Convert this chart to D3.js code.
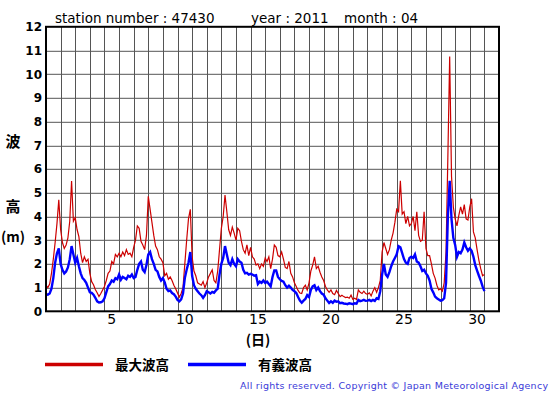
<!DOCTYPE html>
<html>
<head>
<meta charset="utf-8">
<script src="https://cdn.jsdelivr.net/npm/d3@7"></script>
<style>
  body { margin: 0; background: #fff; }
  text { font-family: "DejaVu Sans", sans-serif; }
  .jp { font-family: "Noto Sans CJK JP", sans-serif; font-weight: bold; }
</style>
</head>
<body>
<div id="chart"></div>
<script>
var svgWidth = 555;
var svgHeight = 395;

// plot box in pixels
var margin = { top: 26.8, right: 56, bottom: 83.7, left: 46 };
var width = svgWidth - margin.left - margin.right;
var height = svgHeight - margin.top - margin.bottom;

// data: 3-hourly values from Apr 1 00:00
var stepHours = 3;
var dayLabels = [5, 10, 15, 20, 25, 30];
var yTicks = [0, 1, 2, 3, 4, 5, 6, 7, 8, 9, 10, 11, 12];
var nDays = 31;

// 最大波高 (m)
var maxWave = [
  1.1, 1.0, 1.15, 1.6, 2.2, 2.9, 3.7, 4.7,
  3.45, 2.9, 2.65, 2.8, 3.1, 3.8, 5.5, 3.8,
  3.95, 3.45, 3.15, 2.45, 2.05, 2.3, 2.1, 2.2,
  1.6, 1.25, 1.12, 0.92, 0.78, 0.62, 0.75, 0.9,
  1.05, 1.3, 1.6, 1.7, 2.1, 2.0, 2.4, 2.3,
  2.45, 2.3, 2.5, 2.35, 2.6, 2.4, 2.45, 2.3,
  2.7, 3.0, 3.6, 3.5, 2.95, 2.8, 2.6, 3.2,
  4.85, 4.3, 3.75, 3.2, 2.75, 2.6, 2.3, 2.2,
  2.05, 1.5, 1.6, 1.35, 1.45, 1.3, 1.1, 0.95,
  0.77, 0.6, 0.75, 1.0, 2.0, 3.0, 3.9, 4.3,
  2.3, 1.7, 1.5, 1.2, 1.15, 1.1, 1.25, 1.0,
  1.2, 1.45, 1.6, 1.75, 1.3, 1.2, 1.7, 2.6,
  3.5, 4.0, 4.9, 4.2, 3.45, 3.2, 3.55, 3.3,
  3.0, 3.5, 3.4, 2.95, 2.6, 2.45, 2.8, 2.35,
  2.7, 2.3, 2.2, 1.95, 2.0, 1.8, 2.0, 1.9,
  2.25, 2.1, 2.3, 1.8, 2.2, 2.8, 2.7, 2.35,
  2.3, 2.5, 2.2, 1.85, 1.8, 2.1, 1.6, 1.45,
  1.2, 1.05, 0.88, 0.77, 0.75, 1.0, 1.1, 0.9,
  1.2, 1.7, 1.95, 2.3, 1.8, 1.9, 1.65, 1.45,
  1.3, 1.05, 0.9, 0.8, 0.9, 0.75, 0.7, 0.88,
  0.75, 0.62, 0.68, 0.62, 0.58, 0.6, 0.55, 0.68,
  0.5, 0.55, 0.5, 0.9, 0.8, 0.75, 0.85, 0.75,
  0.72, 0.78, 0.65, 0.85, 1.0, 0.8, 1.0, 1.3,
  2.5, 2.9, 2.65, 2.4, 2.6, 3.0, 3.3, 3.75,
  4.3, 4.2, 5.5, 4.1, 4.2, 3.7, 4.0, 3.6,
  3.7, 4.0, 3.4, 4.2, 3.2, 2.95, 3.0, 4.2,
  2.65, 2.35, 2.35, 2.0, 1.6, 1.4, 1.1, 0.9,
  0.95, 0.85, 1.2, 2.5, 6.5, 10.75, 5.7, 4.4,
  3.9, 3.6, 4.05, 4.4, 4.1, 4.5, 3.9, 3.85,
  4.4, 4.75, 3.35, 3.1, 2.6, 2.15, 1.8, 1.5,
  1.55
];

// 有義波高 (m)
var sigWave = [
  0.72, 0.7, 0.75, 0.95, 1.4, 2.05, 2.45, 2.65,
  2.0, 1.75, 1.6, 1.68, 1.85, 2.2, 2.75, 2.4,
  2.05, 2.25, 1.9, 1.6, 1.4, 1.32, 1.2, 1.0,
  0.8, 0.78, 0.7, 0.57, 0.42, 0.37, 0.38, 0.42,
  0.55, 0.8, 1.05, 1.15, 1.3, 1.25, 1.4, 1.35,
  1.55, 1.33, 1.45, 1.4, 1.35, 1.5, 1.45, 1.55,
  1.4, 1.45, 1.75, 2.0, 2.1, 1.75, 1.65, 1.95,
  2.4, 2.5, 2.2, 2.0, 1.75, 1.68, 1.45, 1.3,
  1.4, 1.22, 0.95, 0.85, 0.88, 0.77, 0.72, 0.62,
  0.48, 0.42, 0.5, 0.75, 1.4, 1.75, 2.05, 2.5,
  1.5, 1.1, 0.95, 0.85, 0.75, 0.68, 0.57, 0.68,
  0.85, 0.8, 0.75, 0.82, 0.78, 0.88, 0.95, 1.55,
  2.0, 2.25, 2.75, 2.4, 2.05, 1.95, 2.2, 2.0,
  1.9, 2.2, 2.1, 2.05, 1.75, 1.6, 1.62, 1.55,
  1.58, 1.55, 1.5, 1.52, 1.15, 1.25, 1.2, 1.3,
  1.2, 1.25, 1.15, 1.05, 1.45, 1.72, 1.72, 1.45,
  1.35, 1.28, 1.25, 1.1, 1.0, 1.08, 1.0, 0.9,
  0.85, 0.77, 0.6, 0.45, 0.36, 0.45, 0.52, 0.68,
  0.6, 0.9, 1.05, 1.1, 0.9, 1.0, 0.85, 0.75,
  0.7, 0.55, 0.45, 0.35, 0.42, 0.36, 0.45, 0.4,
  0.42, 0.34, 0.36, 0.33, 0.32, 0.3, 0.34, 0.32,
  0.3, 0.34, 0.32, 0.48, 0.43, 0.45, 0.48, 0.44,
  0.45, 0.48, 0.43, 0.48, 0.44, 0.55, 0.52, 0.85,
  1.55, 2.0, 1.55, 1.45, 1.65, 1.9, 2.1, 2.25,
  2.4, 2.75, 2.7, 2.45, 2.2, 2.05, 2.0, 2.25,
  2.3, 2.25, 2.4, 2.1, 2.05, 1.9, 1.7, 1.75,
  1.6, 1.5, 1.3, 0.95, 0.8, 0.62, 0.55, 0.5,
  0.45, 0.47, 0.55, 1.2, 4.0, 5.5, 3.9, 3.1,
  2.8, 2.3, 2.5, 2.45, 2.6, 2.9, 2.7, 2.55,
  2.65, 2.55, 2.3, 1.95, 1.72, 1.5, 1.3, 1.05,
  0.85
];

var svg = d3.select("#chart")
  .append("svg")
  .attr("width", svgWidth)
  .attr("height", svgHeight);

var chartGroup = svg.append("g")
  .attr("transform", `translate(${margin.left}, ${margin.top})`);

// scales
var xTime = d3.scaleLinear().domain([0, nDays]).range([0, width]);
var xDay = d3.scaleBand().domain(d3.range(1, nDays + 1)).range([0, width]).padding(0);
var yScale = d3.scaleLinear().domain([0, 12]).range([height, 0]);

// grid
chartGroup.selectAll(".vgrid")
  .data(d3.range(1, nDays))
  .enter()
  .append("line")
  .attr("x1", d => Math.round(xTime(d)) + 0.5)
  .attr("x2", d => Math.round(xTime(d)) + 0.5)
  .attr("y1", 0)
  .attr("y2", height)
  .attr("stroke", "#555")
  .attr("stroke-width", 1);

chartGroup.selectAll(".hgrid")
  .data(yTicks.slice(1, -1))
  .enter()
  .append("line")
  .attr("x1", 0)
  .attr("x2", width)
  .attr("y1", d => Math.round(yScale(d)) + 0.5)
  .attr("y2", d => Math.round(yScale(d)) + 0.5)
  .attr("stroke", "#555")
  .attr("stroke-width", 1);

// lines
var line = d3.line()
  .x((d, i) => xTime(i * stepHours / 24))
  .y(d => yScale(d));

chartGroup.append("path")
  .datum(maxWave)
  .attr("d", line)
  .attr("fill", "none")
  .attr("stroke", "#cc0000")
  .attr("stroke-width", 1.2);

chartGroup.append("path")
  .datum(sigWave)
  .attr("d", line)
  .attr("fill", "none")
  .attr("stroke", "#0000ff")
  .attr("stroke-width", 2.4);

// frame
chartGroup.append("rect")
  .attr("x", 0)
  .attr("y", 0)
  .attr("width", width)
  .attr("height", height)
  .attr("fill", "none")
  .attr("stroke", "#000")
  .attr("stroke-width", 2);

// axes
var bottomAxis = d3.axisBottom(xDay).tickValues(dayLabels).tickSize(0).tickPadding(3);
var leftAxis = d3.axisLeft(yScale).tickValues(yTicks).tickSize(0).tickPadding(4);

var xAxisG = chartGroup.append("g")
  .attr("transform", `translate(0, ${height})`)
  .call(bottomAxis);
xAxisG.select(".domain").remove();
xAxisG.selectAll("text")
  .attr("font-family", "DejaVu Sans")
  .attr("font-size", 14)
  .attr("fill", "#000");

var yAxisG = chartGroup.append("g")
  .call(leftAxis);
yAxisG.select(".domain").remove();
yAxisG.selectAll("text")
  .attr("font-family", "DejaVu Sans")
  .attr("font-size", 12)
  .attr("font-weight", "bold")
  .attr("fill", "#000");

// titles
svg.append("text")
  .attr("x", 55)
  .attr("y", 23)
  .attr("font-size", 13.5)
  .text("station number : 47430");

svg.append("text")
  .attr("x", 251)
  .attr("y", 23)
  .attr("font-size", 13.5)
  .text("year : 2011");

svg.append("text")
  .attr("x", 344)
  .attr("y", 23)
  .attr("font-size", 13.5)
  .text("month : 04");

// y axis label
svg.append("text").attr("class", "jp")
  .attr("x", 13).attr("y", 147).attr("text-anchor", "middle")
  .attr("font-size", 15).text("波");
svg.append("text").attr("class", "jp")
  .attr("x", 13).attr("y", 212).attr("text-anchor", "middle")
  .attr("font-size", 15).text("高");
svg.append("text").attr("class", "jp")
  .attr("x", 13).attr("y", 242).attr("text-anchor", "middle")
  .attr("font-size", 14).text("(m)");

// x axis label
svg.append("text").attr("class", "jp")
  .attr("x", 258).attr("y", 345).attr("text-anchor", "middle")
  .attr("font-size", 14).text("(日)");

// legend
var legendItems = [
  { label: "最大波高", color: "#cc0000", x: 45 },
  { label: "有義波高", color: "#0000ff", x: 188 }
];
var legend = svg.selectAll(".legend")
  .data(legendItems)
  .enter()
  .append("g")
  .attr("transform", d => `translate(${d.x}, 364.5)`);
legend.append("line")
  .attr("x1", 0).attr("x2", 58)
  .attr("y1", 0).attr("y2", 0)
  .attr("stroke", d => d.color)
  .attr("stroke-width", 3.5);
legend.append("text")
  .attr("class", "jp")
  .attr("x", 70)
  .attr("y", 5)
  .attr("font-size", 13.5)
  .text(d => d.label);

// copyright
svg.append("text")
  .attr("x", 240)
  .attr("y", 389)
  .attr("font-size", 9.5)
  .attr("fill", "#3a3ad8")
  .attr("textLength", 308)
  .attr("lengthAdjust", "spacing")
  .text("All rights reserved. Copyright © Japan Meteorological Agency");
</script>
</body>
</html>
